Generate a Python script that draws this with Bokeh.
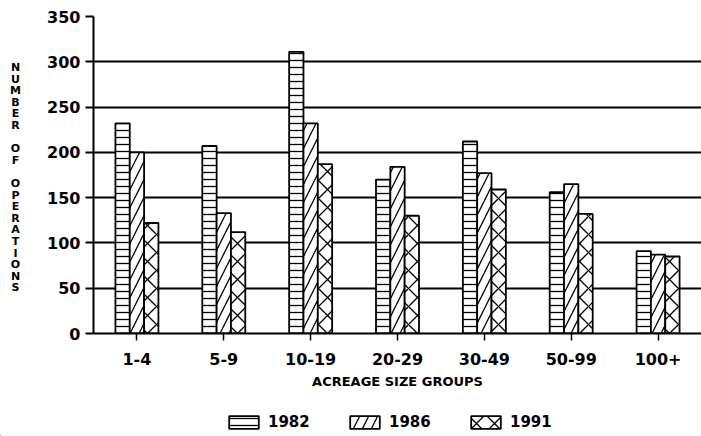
from bokeh.plotting import figure
from bokeh.layouts import row, column
from bokeh.models import (FactorRange, Range1d, ColumnDataSource, FixedTicker,
                          Legend, LegendItem)
from bokeh.core.properties import value
from bokeh.transform import dodge
from bokeh.embed import file_html
from bokeh.resources import INLINE

# ---- data ----
groups = ["1-4", "5-9", "10-19", "20-29", "30-49", "50-99", "100+"]
years = ["1982", "1986", "1991"]
ops_1982 = [232, 207, 311, 170, 212, 156, 91]
ops_1986 = [200, 133, 232, 184, 177, 165, 87]
ops_1991 = [122, 112, 187, 130, 159, 132, 85]
y_ticks = [0, 50, 100, 150, 200, 250, 300, 350]
y_title = "NUMBER OF OPERATIONS"
x_title = "ACREAGE SIZE GROUPS"

FONT = "DejaVu Sans"
W, H = 701, 436
LEFT_W = 30          # strip holding the stacked y title
TOP, BOTTOM = 16, 64  # borders of the chart part
CHART_H = 397
LEG_H = H - CHART_H

# hatch styles per year
styles = {
    "1982": dict(hatch_pattern="horizontal_line", hatch_scale=7),
    "1986": dict(hatch_pattern="right_diagonal_line", hatch_scale=18),
    "1991": dict(hatch_pattern="diagonal_cross", hatch_scale=18),
}
bar_look = dict(fill_color="white", line_color="black", line_width=1.8,
                hatch_color="black", hatch_weight=1.3)

# ---- stacked y-title strip (upright letters one under another) ----
frame_bottom = CHART_H - BOTTOM
t = figure(width=LEFT_W, height=CHART_H, x_range=Range1d(0, LEFT_W),
           y_range=Range1d(frame_bottom, TOP),
           output_backend="svg", toolbar_location=None,
           min_border_left=0, min_border_right=0, min_border_top=TOP,
           min_border_bottom=BOTTOM, x_axis_type=None, y_axis_type=None)
t.outline_line_color = None
t.xgrid.visible = False
t.ygrid.visible = False
step = 11.6
t.text(x=[15] * len(y_title), y=[67 + i * step for i in range(len(y_title))],
       text=list(y_title), text_align="center", text_baseline="middle",
       text_font=value(FONT), text_font_style="bold", text_font_size="11px",
       text_color="black")

# ---- main chart ----
src = ColumnDataSource(dict(group=groups, y1982=ops_1982, y1986=ops_1986, y1991=ops_1991))

p = figure(x_range=FactorRange(factors=groups), y_range=Range1d(0, 350),
           width=W - LEFT_W, height=CHART_H, output_backend="svg", toolbar_location=None,
           min_border_left=93 - LEFT_W, min_border_right=0, min_border_top=TOP,
           min_border_bottom=BOTTOM)

bw = 0.165
p.vbar(x=dodge("group", -bw, range=p.x_range), top="y1982", width=bw, source=src,
       **styles["1982"], **bar_look)
p.vbar(x=dodge("group", 0, range=p.x_range), top="y1986", width=bw, source=src,
       **styles["1986"], **bar_look)
p.vbar(x=dodge("group", bw, range=p.x_range), top="y1991", width=bw, source=src,
       **styles["1991"], **bar_look)

p.outline_line_color = None
p.xgrid.grid_line_color = None
p.ygrid.ticker = FixedTicker(ticks=y_ticks)
p.ygrid.grid_line_color = "black"
p.ygrid.grid_line_width = 1.8

p.yaxis.ticker = FixedTicker(ticks=y_ticks)
p.yaxis.major_tick_out = 8
p.yaxis.major_tick_in = 0
p.yaxis.minor_tick_out = 0
p.yaxis.minor_tick_in = 0
p.yaxis.major_tick_line_width = 1.8
p.yaxis.axis_line_width = 2
p.yaxis.axis_line_color = "black"
p.yaxis.major_label_standoff = 5
p.yaxis.major_label_text_font = FONT
p.yaxis.major_label_text_font_style = "bold"
p.yaxis.major_label_text_font_size = "16px"
p.yaxis.major_label_text_color = "black"

p.xaxis.major_tick_out = 7
p.xaxis.major_tick_in = 0
p.xaxis.major_tick_line_width = 1.5
p.xaxis.axis_line_width = 2
p.xaxis.axis_line_color = "black"
p.xaxis.major_label_standoff = 12
p.xaxis.major_label_text_font = FONT
p.xaxis.major_label_text_font_style = "bold"
p.xaxis.major_label_text_font_size = "16px"
p.xaxis.major_label_text_color = "black"
p.xaxis.axis_label = x_title
p.xaxis.axis_label_standoff = 6
p.xaxis.axis_label_text_font = FONT
p.xaxis.axis_label_text_font_style = "bold"
p.xaxis.axis_label_text_font_size = "13px"
p.xaxis.axis_label_text_color = "black"

# ---- legend strip ----
lg = figure(width=W, height=LEG_H, x_range=Range1d(0, W), y_range=Range1d(0, LEG_H),
            output_backend="svg", toolbar_location=None, min_border=0,
            x_axis_type=None, y_axis_type=None)
lg.outline_line_color = None
lg.xgrid.visible = False
lg.ygrid.visible = False
items = []
for yr in years:
    # zero-height stand-in placed off view, only used to draw the legend swatch
    r = lg.vbar(x=[-1000], top=[0], bottom=[0], width=1, **styles[yr], **bar_look)
    items.append(LegendItem(label=yr, renderers=[r]))
legend = Legend(items=items, orientation="horizontal", location=(225, 5),
                glyph_width=37, glyph_height=16, label_height=16, label_width=60,
                spacing=18, label_standoff=6, padding=0, margin=0,
                border_line_color=None, background_fill_alpha=0,
                label_text_font=FONT, label_text_font_style="bold",
                label_text_font_size="15px", label_text_color="black")
lg.add_layout(legend)

layout = column(row(t, p), lg)
open("out.html", "w").write(file_html(layout, INLINE))
